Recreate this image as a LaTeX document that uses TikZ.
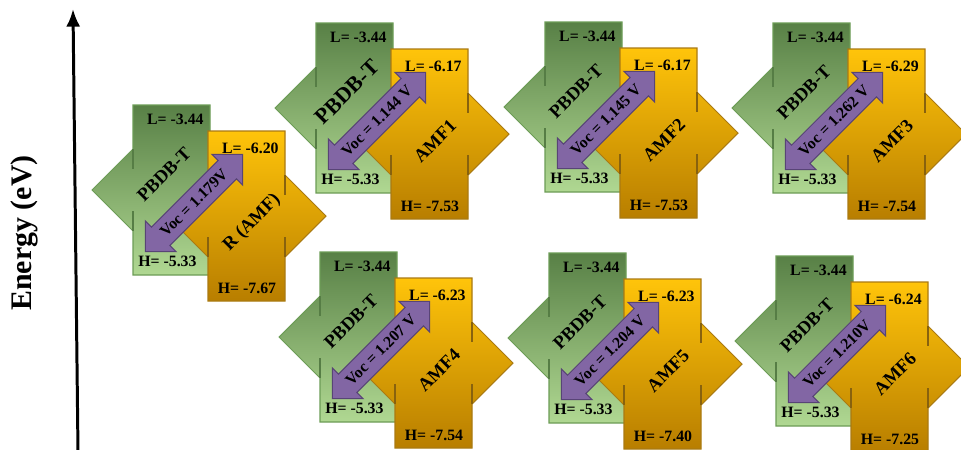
\documentclass[tikz,border=0pt]{standalone}
\usepackage{fontspec}
\setmainfont{Liberation Serif}
\usetikzlibrary{shapes.arrows,arrows.meta}
\definecolor{donorTop}{RGB}{88,128,70}
\definecolor{donorBot}{RGB}{176,216,146}
\definecolor{donorLine}{RGB}{108,156,86}
\definecolor{accTop}{RGB}{255,196,10}
\definecolor{accBot}{RGB}{184,126,0}
\definecolor{accLine}{RGB}{170,122,18}
\definecolor{vocFill}{RGB}{130,102,164}
\definecolor{vocLine}{RGB}{88,68,118}
\tikzstyle{donor}=[top color=donorTop,bottom color=donorBot,draw=donorLine,line width=0.6pt]
\tikzstyle{acceptor}=[top color=accTop,bottom color=accBot,draw=accLine,line width=0.6pt]
\tikzstyle{donor stub}=[draw=donorLine!80!black,line width=0.7pt]
\tikzstyle{acceptor stub}=[draw=accLine!80!black,line width=0.7pt]
\tikzstyle{level}=[font=\fontsize{9}{10}\selectfont\bfseries,inner sep=0pt]
\tikzstyle{molname}=[font=\bfseries,rotate=45,inner sep=0pt]
\tikzstyle{voc arrow}=[shape=double arrow,double arrow tip angle=90,double arrow head extend=5pt,
    fill=vocFill,draw=vocLine,line width=0.6pt,rotate=45,minimum height=2.75cm,
    font=\fontsize{9}{10}\selectfont\bfseries,text height=6.5pt,text depth=1pt,inner ysep=3.3pt,inner xsep=0pt]
\tikzstyle{axis}=[line width=1.7pt,-{Latex[length=10pt,width=8pt]}]
\tikzstyle{axis label}=[font=\fontsize{17}{19}\selectfont\bfseries,rotate=90,inner sep=0pt]

\begin{document}
\begin{tikzpicture}[x=0.02cm,y=-0.02cm]
    \useasboundingbox (0,0) rectangle (961,450);
    % Energy axis
    \coordinate (axis bottom) at (78,452);
    \coordinate (axis top) at (73,9);
    \draw[axis] (axis bottom) -- (axis top);
    \node[axis label] (energy) at (24,233) {Energy (eV)};

    % One PBDB-T / acceptor pair per molecule
    \foreach \id/\gx/\gy/\lumo/\homo/\acc/\voc/\ps in {
        R/133/105/-6.20/-7.67/{R (AMF)}/{Voc = 1.179V}/10.5,
        A1/316/23/-6.17/-7.53/AMF1/{Voc = 1.144 V}/12.5,
        A2/545/22/-6.17/-7.53/AMF2/{Voc = 1.145 V}/10.5,
        A3/773/23/-6.29/-7.54/AMF3/{Voc = 1.262 V}/10.5,
        A4/320/252/-6.23/-7.54/AMF4/{Voc = 1.207 V}/10.5,
        A5/549/253/-6.23/-7.40/AMF5/{Voc = 1.204 V}/10.5,
        A6/776/256/-6.24/-7.25/AMF6/{Voc = 1.210V}/10.5}
    {
        % donor block
        \path[donor] (\gx,\gy) -- (\gx+77,\gy) -- (\gx+77,\gy+44) -- (\gx+118,\gy+85)
            -- (\gx+77,\gy+126) -- (\gx+77,\gy+170) -- (\gx,\gy+170) -- (\gx,\gy+126)
            -- (\gx-41,\gy+85) -- (\gx,\gy+44) -- cycle;
        \path[donor stub] (\gx,\gy+44) -- (\gx,\gy+64) (\gx,\gy+126) -- (\gx,\gy+106);
        % acceptor block
        \path[acceptor] (\gx+75,\gy+26) -- (\gx+152,\gy+26) -- (\gx+152,\gy+70) -- (\gx+193,\gy+111)
            -- (\gx+152,\gy+152) -- (\gx+152,\gy+196) -- (\gx+75,\gy+196) -- (\gx+75,\gy+152)
            -- (\gx+34,\gy+111) -- (\gx+75,\gy+70) -- cycle;
        \path[acceptor stub] (\gx+75,\gy+70) -- (\gx+75,\gy+90) (\gx+75,\gy+152) -- (\gx+75,\gy+132)
            (\gx+152,\gy+70) -- (\gx+152,\gy+90) (\gx+152,\gy+152) -- (\gx+152,\gy+132);
        % labels
        \node[level,anchor=east] (\id-dL) at (\gx+71,\gy+14) {L= -3.44};
        \node[level,anchor=west] (\id-dH) at (\gx+5,\gy+156) {H= -5.33};
        \node[level,anchor=east] (\id-aL) at (\gx+146,\gy+43) {L= \lumo};
        \node[level] (\id-aH) at (\gx+114,\gy+183) {H= \homo};
        \node[molname,font=\fontsize{\ps}{\ps}\selectfont\bfseries] (\id-don) at (\gx+31,\gy+69) {PBDB-T};
        \node[molname,font=\fontsize{10.5}{12}\selectfont\bfseries] (\id-acc) at (\gx+119,\gy+118) {\acc};
        \node[voc arrow] (\id-voc) at (\gx+61,\gy+98) {\voc};
    }
\end{tikzpicture}
\end{document}
